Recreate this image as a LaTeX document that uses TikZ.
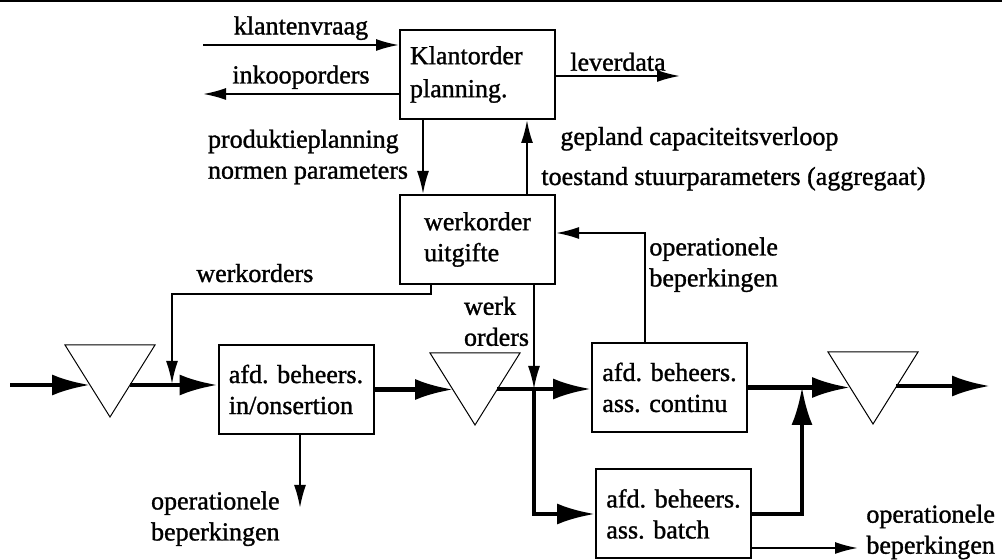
\documentclass[tikz,border=0pt]{standalone}
\usepackage{fontspec}
\setmainfont{Liberation Serif}[FakeBold=1.2]
\usetikzlibrary{arrows.meta, positioning}

\begin{document}
\begin{tikzpicture}[
    x=0.5pt, y=-0.5pt,
    font=\fontsize{13}{15.5}\selectfont,
    box/.style={rectangle, draw, line width=1pt, minimum width=77.5pt, minimum height=44.5pt, align=left, inner sep=2pt},
    lbl/.style={inner sep=2pt, align=left},
    flow/.style={-{Latex[length=19pt, width=10.5pt]}, line width=2.2pt},
    info/.style={-{Latex[length=11.5pt, width=6pt]}, line width=1pt},
    buffer/.style={line width=0.5pt}
]
    \useasboundingbox (0,0) rectangle (1002,560);
    \draw[line width=1pt] (0,1) -- (1002,1);

    % Boxes
    \node[box, text width=67.5pt, inner xsep=5pt, font=\fontsize{13}{16.5}\selectfont] (klant) at (477.5,74.5) {Klantorder\\planning.};
    \node[box, below=37pt of klant] (werk) {werkorder\\uitgifte};
    \node[box] (afd1) at (296,389.5) {afd. beheers.\\in/onsertion};
    \node[box] (cont) at (669.5,387.5) {afd. beheers.\\ass. continu};
    \node[box] (batch) at (673.5,514) {afd. beheers.\\ass. batch};

    % Buffers
    \foreach \n/\cx/\ty in {1/110/345, 2/475/353, 3/873/352}
        \draw[buffer] ({\cx-45},\ty) -- ({\cx+45},\ty) -- (\cx,{\ty+72}) -- cycle;
    \coordinate (t1w) at (90,385);
    \coordinate (t1e) at (130,385);
    \coordinate (t2w) at (453,389);
    \coordinate (t2e) at (497,389);
    \coordinate (t3w) at (850,386);
    \coordinate (t3e) at (896,386);

    % Material flow
    \coordinate (in) at (10,385);
    \coordinate (j2) at (534,389);
    \coordinate (j3) at (802,387);
    \coordinate (out) at (990,386);
    \draw[flow] (in) -- (t1w);
    \draw[flow] (t1e) -- (t1e -| afd1.west);
    \draw[flow] (afd1.east) -- (afd1.east -| t2w);
    \draw[flow] (t2e) -- (t2e -| cont.west);
    \draw[flow] (j2) |- (batch.west);
    \draw[flow] (cont.east) -- (cont.east -| t3w);
    \draw[flow] (batch.east) -| (j3);
    \draw[flow] (t3e) -- (out);

    % Information flow
    \coordinate (kv) at (203,45);
    \coordinate (ik) at (203,94);
    \coordinate (lv) at (680,76);
    \draw[info] (kv) -- node[lbl, above] (lkv) {klantenvraag} (kv -| klant.west);
    \draw[info] (ik -| klant.west) -- node[lbl, above] (lik) {inkooporders} (ik);
    \draw[info] (lv -| klant.east) -- node[lbl, above] (llv) {leverdata} (lv);

    \coordinate (pp) at (423,0);
    \draw[info] (klant.south -| pp) -- node[lbl, left=5pt] (lpp) {produktieplanning\\normen parameters} (werk.north -| pp);
    \coordinate (cu) at (527,0);
    \draw[info] (werk.north -| cu) -- (klant.south -| cu);
    \node[lbl, anchor=base west] (lgc) at (556,145) {gepland capaciteitsverloop};
    \node[lbl, anchor=base west] (lts) at (537,185) {toestand stuurparameters (aggregaat)};

    \coordinate (ob) at (645,233);
    \draw[info] (cont.north -| ob) -- (ob) -- (ob -| werk.east);
    \node[lbl, anchor=north west] (lob) at (ob) {operationele\\beperkingen};

    \coordinate (wa) at (431,294);
    \coordinate (wb) at (172,294);
    \coordinate (j1) at (172,384);
    \draw[info] (werk.south -| wa) -- (wa) -- (wb) -- (j1);
    \node[lbl, anchor=base west] (lwo) at (192,282) {werkorders};

    \draw[info] (werk.south -| j2) -- node[lbl, left, pos=0.35] (lwk) {werk\\orders} (j2);

    \coordinate (ob1) at (300,508);
    \draw[info] (afd1.south -| ob1) -- (ob1);
    \node[lbl, anchor=north east] (lob1) at (284,487) {operationele\\beperkingen};

    \coordinate (ob3) at (858,548);
    \draw[info] (ob3 -| batch.east) -- (ob3);
    \node[lbl, anchor=west] (lob3) at (862,532) {operationele\\beperkingen};
\end{tikzpicture}
\end{document}
